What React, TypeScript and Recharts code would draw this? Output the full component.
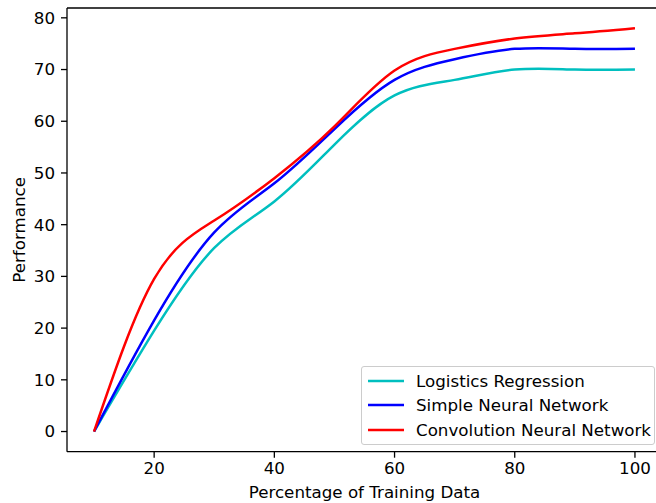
import React from "react";
import { LineChart, Line, XAxis, YAxis, Legend, ReferenceLine } from "recharts";

const xValues = [10, 20, 30, 40, 50, 60, 70, 80, 90, 100];
const logisticRegression = [0, 19.5, 35.5, 44.5, 55.5, 65, 68, 70, 70, 70];
const simpleNeuralNetwork = [0, 21.5, 38.5, 48, 58.5, 68, 72, 74, 74, 74];
const convolutionNeuralNetwork = [0, 29.5, 40.8, 49, 59, 69.8, 74, 76, 77, 78];
const seriesNames = ["Logistics Regression", "Simple Neural Network", "Convolution Neural Network"];
const xTicks = [20, 40, 60, 80, 100];
const yTicks = [0, 10, 20, 30, 40, 50, 60, 70, 80];

const data = xValues.map((x, i) => ({
  x,
  lr: logisticRegression[i],
  snn: simpleNeuralNetwork[i],
  cnn: convolutionNeuralNetwork[i],
}));

const FONT = "'DejaVu Sans', sans-serif";
const FS = 16.7;

const YLabel = (p: any) => {
  const vb = p.viewBox || { x: 0, y: 0, width: 0, height: 0 };
  const cx = vb.x + 25;
  const cy = vb.y + vb.height / 2;
  return (
    <text
      x={cx}
      y={cy}
      transform={`rotate(-90 ${cx} ${cy})`}
      textAnchor="middle"
      fontSize={FS}
      fontFamily={FONT}
      fill="#000"
    >
      Performance
    </text>
  );
};

const LegendBox = (props: any) => {
  const payload = [...(props.payload || [])].sort(
    (a: any, b: any) => seriesNames.indexOf(a.value) - seriesNames.indexOf(b.value)
  );
  return (
    <div
      style={{
        boxSizing: "border-box",
        width: "100%",
        height: "100%",
        border: "1px solid #cccccc",
        borderRadius: 3,
        background: "rgba(255,255,255,0.8)",
        paddingTop: 1.5,
        fontFamily: FONT,
        fontSize: FS,
        color: "#000",
      }}
    >
      {payload.map((item: any) => (
        <div
          key={item.value}
          style={{ display: "flex", alignItems: "center", height: 24.5, whiteSpace: "nowrap" }}
        >
          <svg width={54} height={10} style={{ flex: "none" }}>
            <line x1={6} y1={5} x2={42} y2={5} stroke={item.color} strokeWidth={2.5} />
          </svg>
          <span>{item.value}</span>
        </div>
      ))}
    </div>
  );
};

export default function App() {
  return (
    <div
      style={{
        position: "absolute",
        left: 0,
        top: 0,
        width: 656,
        height: 503,
        overflow: "hidden",
        background: "#fff",
      }}
    >
      <LineChart
        width={680}
        height={503}
        data={data}
        margin={{ top: 8, right: 18, bottom: 0, left: 0 }}
      >
        <XAxis
          dataKey="x"
          type="number"
          domain={[5.5, 104.5]}
          ticks={xTicks}
          allowDataOverflow
          height={51.3}
          tickSize={6}
          tickMargin={4}
          stroke="#000"
          axisLine={{ stroke: "#000", strokeWidth: 1.3 }}
          tickLine={{ stroke: "#000", strokeWidth: 1.3 }}
          tick={{ fill: "#000", fontSize: FS, fontFamily: FONT }}
          label={{
            value: "Percentage of Training Data",
            position: "insideBottom",
            offset: 5,
            fill: "#000",
            fontSize: FS,
            fontFamily: FONT,
          }}
        />
        <YAxis
          type="number"
          domain={[-3.9, 81.9]}
          ticks={yTicks}
          allowDataOverflow
          width={67}
          tickSize={6}
          tickMargin={6}
          stroke="#000"
          axisLine={{ stroke: "#000", strokeWidth: 1.3 }}
          tickLine={{ stroke: "#000", strokeWidth: 1.3 }}
          tick={{ fill: "#000", fontSize: FS, fontFamily: FONT }}
          label={YLabel}
        />
        <ReferenceLine y={81.9} stroke="#000" strokeWidth={1.3} />
        <Line
          type="natural"
          dataKey="lr"
          name={seriesNames[0]}
          stroke="#00BFBF"
          strokeWidth={2.5}
          dot={false}
          activeDot={false}
          isAnimationActive={false}
        />
        <Line
          type="natural"
          dataKey="snn"
          name={seriesNames[1]}
          stroke="#0000FF"
          strokeWidth={2.5}
          dot={false}
          activeDot={false}
          isAnimationActive={false}
        />
        <Line
          type="natural"
          dataKey="cnn"
          name={seriesNames[2]}
          stroke="#FF0000"
          strokeWidth={2.5}
          dot={false}
          activeDot={false}
          isAnimationActive={false}
        />
        <Legend
          layout="vertical"
          align="center"
          verticalAlign="middle"
          content={LegendBox}
          wrapperStyle={{ position: "absolute", left: 361, top: 366, width: 294, height: 79 }}
        />
      </LineChart>
    </div>
  );
}
